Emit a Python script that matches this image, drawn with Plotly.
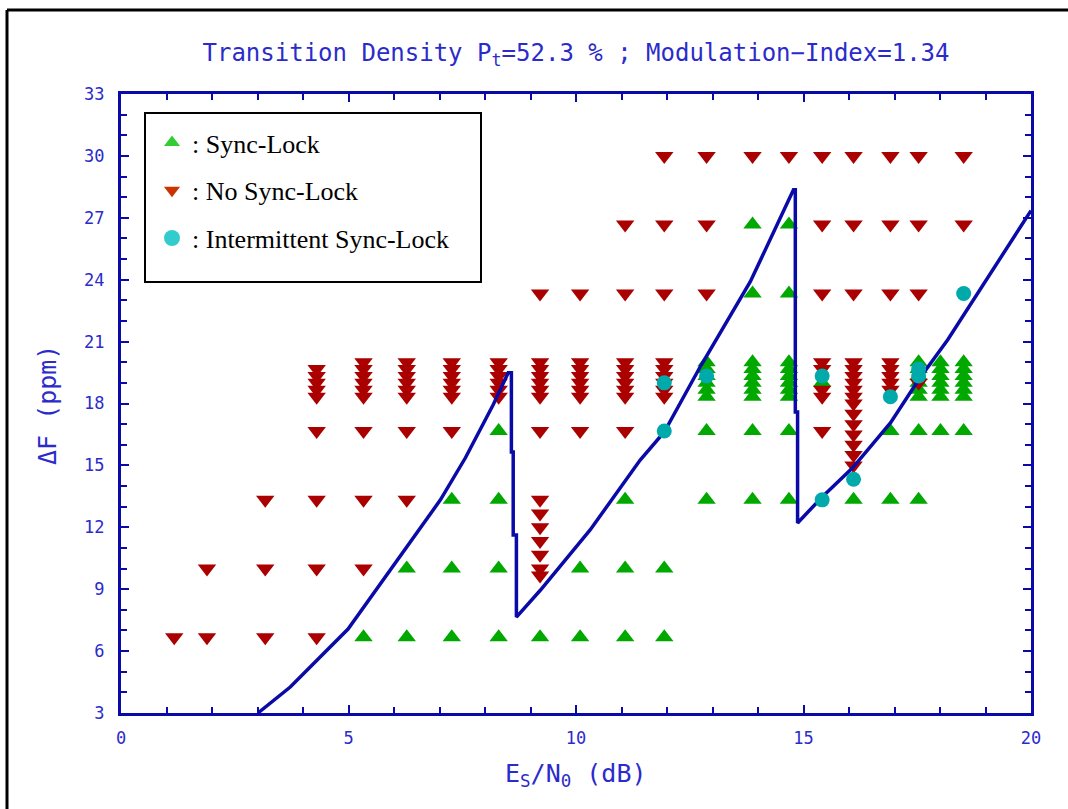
import plotly.graph_objects as go

# Measurement grid: Es/N0 column (dB) -> frequency offsets (ppm) per outcome
stack = [18.33, 18.67, 19.0, 19.33, 19.67, 20.0]

sync_lock = {
    5.33: [6.67],
    6.28: [6.67, 10.0],
    7.27: [6.67, 10.0, 13.33],
    8.30: [6.67, 10.0, 13.33, 16.67],
    9.21: [6.67],
    10.09: [6.67, 10.0],
    11.08: [6.67, 10.0, 13.33],
    11.94: [6.67, 10.0],
    12.87: [13.33, 16.67] + stack,
    13.88: [13.33, 16.67] + stack + [23.33, 26.67],
    14.68: [13.33, 16.67] + stack + [23.33, 26.67],
    15.41: [19.0],
    16.10: [13.33],
    16.91: [13.33, 16.67],
    17.53: [13.33, 16.67] + stack,
    18.01: [16.67] + stack,
    18.52: [16.67] + stack,
}

no_sync_lock = {
    1.17: [6.67],
    1.89: [6.67, 10.0],
    3.17: [6.67, 10.0, 13.33],
    4.30: [6.67, 10.0, 13.33, 16.67, 18.33, 18.67, 19.0, 19.33, 19.67],
    5.33: [10.0, 13.33, 16.67] + stack,
    6.28: [13.33, 16.67] + stack,
    7.27: [16.67] + stack,
    8.30: stack,
    9.21: [9.67, 10.0, 10.67, 11.33, 12.0, 12.67, 13.33, 16.67] + stack + [23.33],
    10.09: [16.67] + stack + [23.33],
    11.08: [16.67] + stack + [23.33, 26.67],
    11.94: stack + [23.33, 26.67, 30.0],
    12.87: [23.33, 26.67, 30.0],
    13.88: [30.0],
    14.68: [30.0],
    15.41: [16.67, 18.33, 18.67, 19.67, 20.0, 23.33, 26.67, 30.0],
    16.10: [15.0, 15.5, 16.0, 16.5, 17.0, 17.5, 18.0] + stack + [23.33, 26.67, 30.0],
    16.91: [18.67, 19.0, 19.33, 19.67, 20.0, 23.33, 26.67, 30.0],
    17.53: [19.0, 23.33, 26.67, 30.0],
    18.52: [26.67, 30.0],
}

intermittent = {
    11.94: [16.67, 19.0],
    12.87: [19.33],
    15.41: [13.33, 19.33],
    16.10: [14.33],
    16.91: [18.33],
    17.53: [19.33, 19.67],
    18.52: [23.33],
}

# Theoretical lock boundary (sawtooth with cycle-slip drops)
boundary_x = [3.01, 3.72, 4.99, 7.02, 7.57, 8.18, 8.51, 8.58, 8.58, 8.62, 8.62, 8.69,
              8.69, 9.22, 10.31, 11.41, 11.94, 12.73, 13.83, 14.78, 14.82, 14.82,
              14.87, 14.87, 15.41, 16.08, 16.91, 17.53, 18.17, 20.0]
boundary_y = [3.0, 4.26, 7.07, 13.33, 15.37, 17.94, 19.49, 19.49, 15.65, 15.65, 11.63, 11.63,
              7.65, 8.96, 11.87, 15.26, 16.62, 19.78, 23.9, 28.36, 28.36, 17.59,
              17.59, 12.21, 13.47, 14.88, 17.06, 19.15, 21.09, 27.35]


def flatten(groups):
    xs, ys = [], []
    for x, vals in groups.items():
        for v in vals:
            xs.append(x)
            ys.append(v)
    return xs, ys


NAVY = "#0a0aa8"
TEXT_BLUE = "#2b2bcc"
MONO = "DejaVu Sans Mono"

W, H = 1068, 809
ML, MR, MT, MB = 121, 37, 94, 96
PW, PH = W - ML - MR, H - MT - MB


def px(x):
    return (x - ML) / PW


def py(y):
    return (H - MB - y) / PH


fig = go.Figure()

sx, sy = flatten(sync_lock)
nx, ny = flatten(no_sync_lock)
ix, iy = flatten(intermittent)

fig.add_trace(go.Scatter(x=sx, y=sy, mode="markers", showlegend=False,
                         marker=dict(symbol="triangle-up", size=16, color="#00a800",
                                     line=dict(width=0))))
fig.add_trace(go.Scatter(x=nx, y=ny, mode="markers", showlegend=False,
                         marker=dict(symbol="triangle-down", size=16, color="#aa0000",
                                     line=dict(width=0))))
fig.add_trace(go.Scatter(x=boundary_x, y=boundary_y, mode="lines", showlegend=False,
                         line=dict(color=NAVY, width=3.5)))
fig.add_trace(go.Scatter(x=ix, y=iy, mode="markers", showlegend=False,
                         marker=dict(symbol="circle", size=15, color="#00aaaa",
                                     line=dict(width=0))))

# Legend entries
fig.add_trace(go.Scatter(x=[None], y=[None], mode="markers", name=": Sync-Lock",
                         legendgroup="a",
                         marker=dict(symbol="triangle-up", size=14, color="#33cc33",
                                     line=dict(width=0))))
fig.add_trace(go.Scatter(x=[None], y=[None], mode="markers", name=": No Sync-Lock",
                         legendgroup="b",
                         marker=dict(symbol="triangle-down", size=14, color="#cc3300",
                                     line=dict(width=0))))
fig.add_trace(go.Scatter(x=[None], y=[None], mode="markers", name=": Intermittent Sync-Lock",
                         legendgroup="c",
                         marker=dict(symbol="circle", size=19, color="#33cccc",
                                     line=dict(width=0))))

axis_common = dict(
    showline=True, linewidth=3, linecolor=NAVY, mirror="ticks",
    ticks="inside", ticklen=8, tickwidth=1.5, tickcolor=NAVY,
    showgrid=False, zeroline=False,
    tickfont=dict(family=MONO, size=17, color=TEXT_BLUE),
)

fig.update_xaxes(range=[0, 20], tick0=0, dtick=5, ticklabelstandoff=8,
                 minor=dict(dtick=1, ticks="inside", ticklen=6, tickwidth=1.5, tickcolor=NAVY),
                 **axis_common)
fig.update_yaxes(range=[3, 33], tick0=0, dtick=3, ticklabelstandoff=10,
                 minor=dict(dtick=1, ticks="inside", ticklen=6, tickwidth=1.5, tickcolor=NAVY),
                 **axis_common)

fig.update_layout(
    width=W, height=H,
    margin=dict(l=ML, r=MR, t=MT, b=MB, pad=0),
    paper_bgcolor="white", plot_bgcolor="white",
    title=dict(text="Transition Density P<sub>t</sub>=52.3 % ; Modulation\u2212Index=1.34",
               x=0.5, xref="paper", xanchor="center",
               y=1 - 53 / H, yref="container", yanchor="middle",
               font=dict(family=MONO, size=24, color=TEXT_BLUE)),
    legend=dict(x=px(152), y=py(119), xanchor="left", yanchor="top",
                bgcolor="rgba(0,0,0,0)", borderwidth=0, tracegroupgap=11,
                font=dict(family="Liberation Serif", size=26, color="black")),
    shapes=[
        # legend frame
        dict(type="rect", xref="paper", yref="paper",
             x0=px(145), x1=px(481), y0=py(282), y1=py(113),
             line=dict(color="black", width=2), fillcolor="white", layer="above"),
        # outer figure frame (left and top edges)
        dict(type="line", xref="paper", yref="paper",
             x0=px(7), x1=px(7), y0=py(10), y1=py(H + 20),
             line=dict(color="black", width=3)),
        dict(type="line", xref="paper", yref="paper",
             x0=px(7), x1=px(W + 20), y0=py(10), y1=py(10),
             line=dict(color="black", width=3)),
    ],
    annotations=[
        dict(text="E<sub>S</sub>/N<sub>0</sub> (dB)", xref="paper", yref="paper",
             x=0.5, y=py(775), xanchor="center", yanchor="middle", showarrow=False,
             font=dict(family=MONO, size=25, color=TEXT_BLUE)),
        dict(text="\u0394F (ppm)", xref="paper", yref="paper",
             x=px(47), y=py(405), xanchor="center", yanchor="middle", showarrow=False,
             textangle=-90,
             font=dict(family=MONO, size=25, color=TEXT_BLUE)),
    ],
)

fig.write_html("out.html")
